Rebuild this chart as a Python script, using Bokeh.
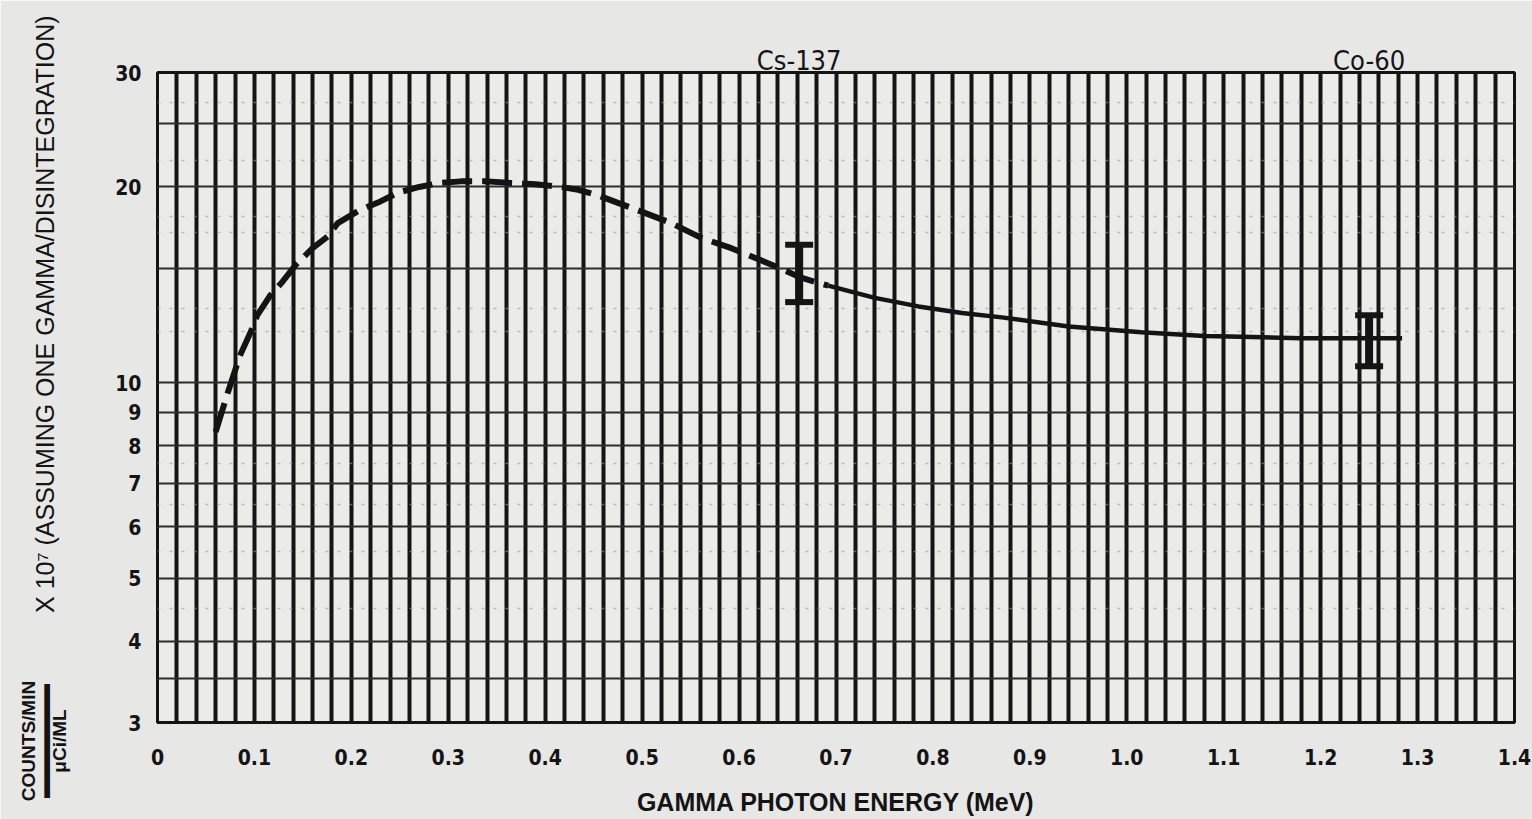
import numpy as np
from bokeh.plotting import figure
from bokeh.models import (Range1d, FixedTicker, CustomJSTickFormatter, LinearAxis, LinearScale,
                          Whisker, TeeHead, ColumnDataSource)
from bokeh.embed import file_html
from bokeh.resources import INLINE

# ---------------- data ----------------
energy = [0.060, 0.073, 0.085, 0.096, 0.103, 0.116, 0.129, 0.143, 0.160, 0.176,
          0.186, 0.208, 0.230, 0.248, 0.270, 0.292, 0.313, 0.340, 0.362, 0.390,
          0.416, 0.434, 0.455, 0.475, 0.492, 0.530, 0.561, 0.592, 0.633, 0.664,
          0.692, 0.740, 0.785, 0.830, 0.871, 0.940, 1.015, 1.080, 1.130, 1.180,
          1.230, 1.284]
response = [8.4, 9.7, 11.0, 11.95, 12.7, 13.6, 14.3, 15.2, 16.1, 16.8,
            17.6, 18.4, 19.0, 19.6, 20.0, 20.3, 20.4, 20.4, 20.3, 20.2,
            20.0, 19.8, 19.4, 18.9, 18.5, 17.6, 16.7, 16.1, 15.2, 14.5,
            14.1, 13.5, 13.1, 12.8, 12.6, 12.2, 11.95, 11.8, 11.75, 11.7,
            11.7, 11.7]
dash_end = 0.692          # curve is dashed up to this energy, solid beyond

isotopes = ["Cs-137", "Co-60"]
isotope_energy = [0.662, 1.25]
err_low = [13.3, 10.6]
err_high = [16.3, 12.7]

x_ticks = [0.0, 0.1, 0.2, 0.3, 0.4, 0.5, 0.6, 0.7, 0.8, 0.9, 1.0, 1.1, 1.2, 1.3, 1.4]
y_ticks = [3, 4, 5, 6, 7, 8, 9, 10, 20, 30]
y_grid_major = [3.5, 4, 5, 6, 7, 8, 9, 10, 15, 20, 25]
y_grid_minor = [4.5, 5.5, 6.5, 7.5, 12, 13, 17, 18, 22, 27]
x_grid = [round(0.02 * i, 2) for i in range(1, 70)]

x_title = "GAMMA PHOTON ENERGY (MeV)"
y_title_num = "COUNTS/MIN"
y_title_den = "\u03bcCi/ML"
y_title_rest = "X 10\u2077 (ASSUMING ONE GAMMA/DISINTEGRATION)"

# ---------------- styling ----------------
PAPER = "#e7e7e5"
INK = "#141414"
FONT = "DejaVu Sans Condensed, Liberation Sans Narrow, sans-serif"
FONT2 = "Liberation Sans, DejaVu Sans, sans-serif"
NBSP = "\u00a0"

p = figure(width=1532, height=819, x_range=Range1d(0, 1.4), y_range=Range1d(3, 30),
           y_axis_type="log", output_backend="svg", toolbar_location=None,
           min_border_left=157, min_border_right=18, min_border_top=72,
           min_border_bottom=97)
p.background_fill_color = "#ebebe8"
p.border_fill_color = PAPER
p.outline_line_color = INK
p.outline_line_width = 3

# grid
p.xgrid.ticker = FixedTicker(ticks=x_grid)
p.xgrid.grid_line_color = INK
p.xgrid.grid_line_width = 4
p.ygrid.ticker = FixedTicker(ticks=y_grid_major, minor_ticks=y_grid_minor)
p.ygrid.grid_line_color = "#2c2c2c"
p.ygrid.grid_line_width = 2
p.ygrid.minor_grid_line_color = "#9a9a9a"
p.ygrid.minor_grid_line_dash = "3 9"
p.ygrid.minor_grid_line_width = 1.5
p.ygrid.minor_grid_line_alpha = 0.6

# axes
for ax in (p.xaxis, p.yaxis):
    ax.axis_line_color = None
    ax.major_tick_line_color = None
    ax.minor_tick_line_color = None
    ax.major_label_text_font = FONT
    ax.major_label_text_font_style = "bold"
    ax.major_label_text_font_size = "21px"
    ax.major_label_text_color = INK

p.xaxis.ticker = FixedTicker(ticks=x_ticks)
p.xaxis.formatter = CustomJSTickFormatter(code="return tick == 0 ? '0' : tick.toFixed(1);")
p.xaxis.major_label_standoff = 20
p.xaxis.axis_label = x_title
p.xaxis.axis_label_text_font = FONT2
p.xaxis.axis_label_text_font_style = "bold"
p.xaxis.axis_label_text_font_size = "25px"
p.xaxis.axis_label_text_color = INK
p.xaxis.axis_label_standoff = 20

p.yaxis.ticker = FixedTicker(ticks=y_ticks)
p.yaxis.formatter = CustomJSTickFormatter(code="return tick.toFixed(0);")
p.yaxis.major_label_standoff = 10
# main part of the y title (leading no-break spaces move it up from the frame centre)
p.yaxis.axis_label = NBSP * 24 + y_title_rest
p.yaxis.axis_label_text_font = FONT2
p.yaxis.axis_label_text_font_style = "normal"
p.yaxis.axis_label_text_font_size = "25px"
p.yaxis.axis_label_text_color = INK
p.yaxis.axis_label_standoff = 53

# isotope names on an axis above the frame
iso_axis = LinearAxis(
    ticker=FixedTicker(ticks=isotope_energy),
    formatter=CustomJSTickFormatter(args=dict(names=isotopes, vals=isotope_energy), code="""
        let b = 0;
        for (let i = 0; i < vals.length; i++)
            if (Math.abs(vals[i] - tick) < Math.abs(vals[b] - tick)) b = i;
        return names[b];"""),
    axis_line_color=None, major_tick_line_color=None, minor_tick_line_color=None,
    major_label_standoff=-9, major_label_text_font=FONT, major_label_text_font_size="27px",
    major_label_text_color=INK)
p.add_layout(iso_axis, "above")

# fraction part of the y title: tick label of an extra left axis at the frame bottom
p.extra_y_ranges = {"ttl": Range1d(0, 650)}
p.extra_y_scales = {"ttl": LinearScale()}
frac_axis = LinearAxis(
    y_range_name="ttl",
    ticker=FixedTicker(ticks=[0]),
    formatter=CustomJSTickFormatter(
        args=dict(num=y_title_num, den=y_title_den),
        code="""
        const pad = '\\u00a0'.repeat(7);
        return num + pad + '\\n' + '\\u25ac'.repeat(6) + pad + '\\n' + den + pad;"""),
    major_label_orientation="parallel",
    axis_line_color=None, major_tick_line_color=None, minor_tick_line_color=None,
    major_label_standoff=-47, major_label_text_font=FONT2, major_label_text_font_style="bold",
    major_label_text_font_size="19px", major_label_text_color=INK,
    major_label_text_line_height=0.72)
p.add_layout(frac_axis, "left")

# ---------------- curve ----------------
e = np.array(energy)
r = np.array(response)
dashed = e <= dash_end
solid = e >= dash_end
p.line(e[dashed], r[dashed], line_color=INK, line_width=6, line_dash="30 10")
p.line(e[solid], r[solid], line_color=INK, line_width=4.5)

# ---------------- error bars ----------------
src = ColumnDataSource(dict(base=isotope_energy, lower=err_low, upper=err_high))
p.add_layout(Whisker(base="base", lower="lower", upper="upper", source=src,
                     dimension="height", line_color=INK, line_width=8,
                     upper_head=TeeHead(size=28, line_width=6, line_color=INK),
                     lower_head=TeeHead(size=28, line_width=6, line_color=INK)))

open("out.html", "w").write(file_html(p, INLINE))
